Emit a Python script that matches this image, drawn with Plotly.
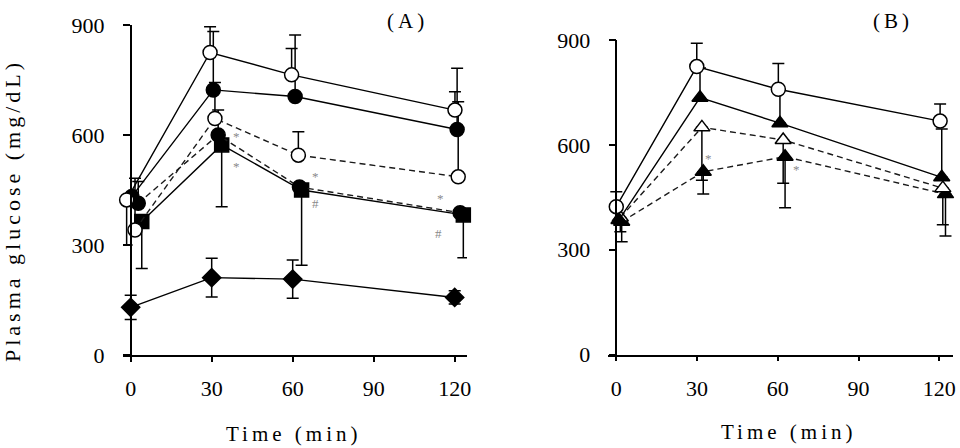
import plotly.graph_objects as go

# ---------------- data ----------------
time_ticks = [0, 30, 60, 90, 120]
glucose_ticks = [0, 300, 600, 900]

# Panel A
a1_x = [-1.5, 29.4, 59.6, 120.1]; a1_y = [423, 825, 764, 668]
a1_up = [0, 70, 72, 50]; a1_dn = [123, 0, 0, 0]
a2_x = [0.4, 30.6, 60.9, 120.9]; a2_y = [432, 723, 705, 615]
a2_up = [0, 159, 168, 167]; a2_dn = [0, 0, 0, 0]
a3_x = [1.6, 31.2, 62.1, 121.3]; a3_y = [341, 645, 545, 486]
a3_up = [141, 98, 64, 205]; a3_dn = [0, 0, 0, 0]
a4_x = [2.8, 32.4, 62.5, 122.0]; a4_y = [414, 600, 458, 388]
a4_up = [59, 68, 0, 0]; a4_dn = [0, 0, 0, 0]
a5_x = [4.1, 33.7, 63.3, 123.2]; a5_y = [364, 573, 450, 382]
a5_up = [0, 0, 0, 0]; a5_dn = [128, 169, 205, 117]
a6_x = [0, 30, 60, 120]; a6_y = [130, 211, 207, 157]
a6_err = [33, 53, 52, 18]

# Panel B
b1_x = [0, 29.9, 60.2, 120.3]; b1_y = [423, 824, 759, 668]
b1_up = [43, 67, 74, 49]; b1_dn = [0, 0, 0, 0]
b2_x = [1.0, 31.1, 60.8, 120.9]; b2_y = [385, 735, 662, 507]
b2_up = [0, 85, 95, 138]; b2_dn = [0, 0, 0, 0]
b3_x = [1.5, 31.8, 62.0, 121.3]; b3_y = [392, 650, 614, 476]
b3_up = [0, 0, 0, 0]; b3_dn = [41, 151, 124, 105]
b4_x = [2.0, 32.3, 62.7, 122.3]; b4_y = [380, 523, 566, 459]
b4_up = [0, 0, 0, 0]; b4_dn = [57, 64, 146, 120]

# significance marks (text, x, y)
a_marks = [("*", 39.3, 595), ("*", 39.3, 513), ("*", 68.3, 486), ("#", 68.3, 414),
           ("*", 114.6, 427), ("#", 113.9, 332)]
b_marks = [("*", 34.2, 561), ("*", 67.0, 528), ("*", 127.0, 490), ("*", 127.0, 452)]

# ---------------- figure ----------------
W, H = 960, 448
FONT = "Liberation Serif, Times New Roman, DejaVu Serif, serif"

fig = go.Figure()


def add(xs, ys, up, dn, symbol, filled, dashed, xa, ya, sym_err=False):
    err = dict(type="data", symmetric=sym_err, array=up, color="black",
               thickness=1.5, width=6)
    if not sym_err:
        err["arrayminus"] = dn
    fig.add_trace(go.Scatter(
        x=xs, y=ys, mode="lines+markers", xaxis=xa, yaxis=ya,
        line=dict(color="#1a1a1a" if dashed else "black", width=1.4,
                  dash="6px,4px" if dashed else "solid"),
        marker=dict(symbol=symbol, size=14,
                    color="black" if filled else "white",
                    line=dict(color="black", width=1.5)),
        error_y=err, cliponaxis=False, showlegend=False))


# panel A (drawn bottom to top)
add(a6_x, a6_y, a6_err, None, "diamond", True, False, "x", "y", sym_err=True)
add(a5_x, a5_y, a5_up, a5_dn, "square", True, False, "x", "y")
add(a4_x, a4_y, a4_up, a4_dn, "circle", True, True, "x", "y")
add(a3_x, a3_y, a3_up, a3_dn, "circle", False, True, "x", "y")
add(a2_x, a2_y, a2_up, a2_dn, "circle", True, False, "x", "y")
add(a1_x, a1_y, a1_up, a1_dn, "circle", False, False, "x", "y")

# panel B
add(b4_x, b4_y, b4_up, b4_dn, "triangle-up", True, True, "x2", "y2")
add(b3_x, b3_y, b3_up, b3_dn, "triangle-up", False, True, "x2", "y2")
add(b2_x, b2_y, b2_up, b2_dn, "triangle-up", True, False, "x2", "y2")
add(b1_x, b1_y, b1_up, b1_dn, "circle", False, False, "x2", "y2")


def px(v):
    return v / W


def py(v):
    return 1 - v / H


xcommon = dict(tickvals=time_ticks, ticks="outside", ticklen=5, tickwidth=1.5,
               tickcolor="black", showline=True, linecolor="black", linewidth=1.5,
               showgrid=False, zeroline=False, ticklabelstandoff=8, automargin=False,
               tickfont=dict(family=FONT, size=22, color="black"))
ycommon = dict(tickvals=glucose_ticks, range=[0, 900], ticks="outside", ticklen=7,
               tickwidth=1.5, tickcolor="black", showline=True, linecolor="black",
               linewidth=1.5, showgrid=False, zeroline=False, ticklabelstandoff=14,
               automargin=False,
               tickfont=dict(family=FONT, size=22, color="black"))

fig.update_layout(
    width=W, height=H, autosize=False,
    margin=dict(l=0, r=0, t=0, b=0, pad=0, autoexpand=False),
    paper_bgcolor="white", plot_bgcolor="white",
    xaxis=dict(domain=[px(123), px(467)], range=[-2.85, 124.56], anchor="y", **xcommon),
    yaxis=dict(domain=[py(355), py(25)], anchor="free", position=px(130.7), **ycommon),
    xaxis2=dict(domain=[px(608.3), px(953.3)], range=[-2.97, 125.2], anchor="y2", **xcommon),
    yaxis2=dict(domain=[py(354.5), py(40)], anchor="free", position=px(616.4), **ycommon),
)

ann = []
for t, x, y in a_marks:
    ann.append(dict(text=t, x=x, y=y, xref="x", yref="y", showarrow=False,
                    font=dict(family=FONT, size=13, color="#8a8a8a")))
for t, x, y in b_marks:
    ann.append(dict(text=t, x=x, y=y, xref="x2", yref="y2", showarrow=False,
                    font=dict(family=FONT, size=13, color="#8a8a8a")))

tfont = dict(family=FONT, size=21, color="black")
ann += [
    dict(text="Time (min)", x=px(293), y=py(434), xref="paper", yref="paper",
         showarrow=False, font=tfont, xanchor="center", yanchor="middle"),
    dict(text="Time (min)", x=px(788), y=py(432), xref="paper", yref="paper",
         showarrow=False, font=tfont, xanchor="center", yanchor="middle"),
    dict(text="Plasma glucose (mg/dL)", x=px(13), y=py(211), xref="paper", yref="paper",
         showarrow=False, font=dict(family=FONT, size=22, color="black"), textangle=-90,
         xanchor="center", yanchor="middle"),
    dict(text="(A)", x=px(407), y=py(21), xref="paper", yref="paper",
         showarrow=False, font=tfont, xanchor="center", yanchor="middle"),
    dict(text="(B)", x=px(893), y=py(21), xref="paper", yref="paper",
         showarrow=False, font=tfont, xanchor="center", yanchor="middle"),
]
fig.update_layout(annotations=ann)

post = """
var gd = document.getElementById('{plot_id}');
gd.querySelectorAll('.annotation-text').forEach(function(t){
  var s = t.textContent;
  if (s.length >= 3) { t.style.letterSpacing = '4px'; }
});
"""
fig.write_html("out.html", post_script=post)
